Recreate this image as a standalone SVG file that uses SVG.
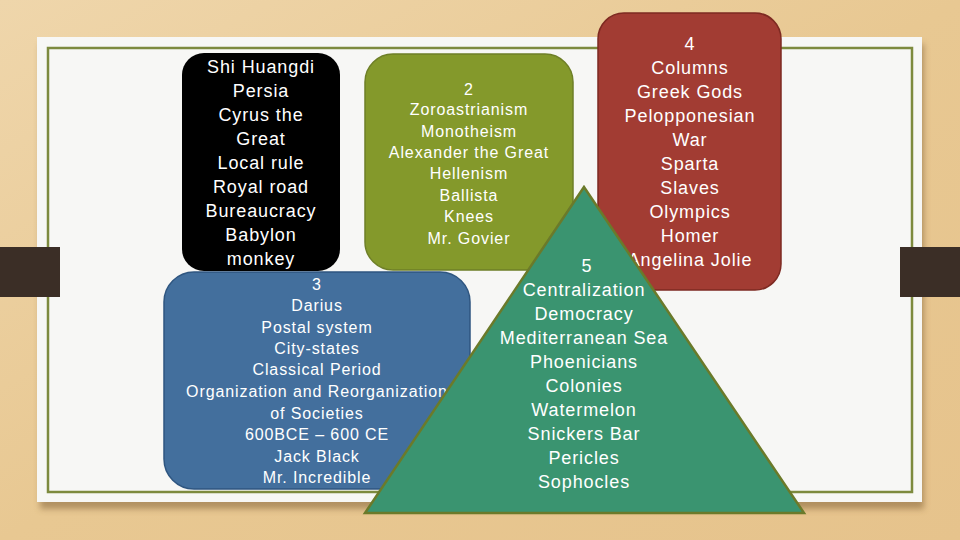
<svg xmlns="http://www.w3.org/2000/svg" width="960" height="540" viewBox="0 0 960 540">
<defs>
<linearGradient id="wood" x1="0" y1="0" x2="1" y2="1">
<stop offset="0" stop-color="#efd6ab"/>
<stop offset="0.5" stop-color="#e8c892"/>
<stop offset="1" stop-color="#e6c38c"/>
</linearGradient>
<filter id="sh" x="-5%" y="-5%" width="110%" height="115%">
<feGaussianBlur stdDeviation="3"/>
</filter>
<style>
.t{font-family:"Liberation Sans",Arial,sans-serif;fill:#ffffff;text-anchor:middle;letter-spacing:0.9px}
.l{font-size:18px}
.s{font-size:16px}
</style>
</defs>
<rect x="0" y="0" width="960" height="540" fill="url(#wood)"/>
<rect x="40" y="44" width="884" height="465" fill="#7a5a30" opacity="0.5" filter="url(#sh)"/>
<rect x="37" y="37" width="885" height="465" fill="#f7f7f5"/>
<rect x="48" y="48" width="864" height="444" fill="none" stroke="#7d8a3e" stroke-width="2.5"/>
<rect x="0" y="247" width="60" height="50" fill="#3b2e26"/>
<rect x="900" y="247" width="60" height="50" fill="#3b2e26"/>
<g id="connectors"></g>
<g id="node1">
<rect x="182" y="53" width="158" height="218" rx="22" fill="#000000"/>
<text class="t l"><tspan x="261" y="73">Shi Huangdi</tspan><tspan x="261" y="97">Persia</tspan><tspan x="261" y="121">Cyrus the</tspan><tspan x="261" y="145">Great</tspan><tspan x="261" y="169">Local rule</tspan><tspan x="261" y="193">Royal road</tspan><tspan x="261" y="217">Bureaucracy</tspan><tspan x="261" y="241">Babylon</tspan><tspan x="261" y="265">monkey</tspan></text>
</g>
<g id="node2">
<rect x="365" y="54" width="208" height="216" rx="28" fill="#84992b" stroke="#6e7f27" stroke-width="1.5"/>
<text class="t s"><tspan x="469" y="95">2</tspan><tspan x="469" y="115">Zoroastrianism</tspan><tspan x="469" y="137">Monotheism</tspan><tspan x="469" y="158">Alexander the Great</tspan><tspan x="469" y="179">Hellenism</tspan><tspan x="469" y="201">Ballista</tspan><tspan x="469" y="222">Knees</tspan><tspan x="469" y="244">Mr. Govier</tspan></text>
</g>
<g id="node3">
<rect x="164" y="272" width="306" height="217" rx="30" fill="#436f9d" stroke="#2f5680" stroke-width="1.5"/>
<text class="t s"><tspan x="317" y="290">3</tspan><tspan x="317" y="311">Darius</tspan><tspan x="317" y="333">Postal system</tspan><tspan x="317" y="354">City-states</tspan><tspan x="317" y="375">Classical Period</tspan><tspan x="317" y="397">Organization and Reorganization</tspan><tspan x="317" y="419">of Societies</tspan><tspan x="317" y="440">600BCE – 600 CE</tspan><tspan x="317" y="462">Jack Black</tspan><tspan x="317" y="483">Mr. Incredible</tspan></text>
</g>
<g id="node4">
<rect x="598" y="13" width="183" height="277" rx="26" fill="#a23c33" stroke="#7e2a22" stroke-width="1.5"/>
<text class="t l"><tspan x="690" y="50">4</tspan><tspan x="690" y="74">Columns</tspan><tspan x="690" y="98">Greek Gods</tspan><tspan x="690" y="122">Pelopponesian</tspan><tspan x="690" y="146">War</tspan><tspan x="690" y="170">Sparta</tspan><tspan x="690" y="194">Slaves</tspan><tspan x="690" y="218">Olympics</tspan><tspan x="690" y="242">Homer</tspan><tspan x="690" y="266">Angelina Jolie</tspan></text>
</g>
<g id="node5">
<polygon points="584,187 365,513 804,513" fill="#3a9470" stroke="#6b7a2a" stroke-width="2.5" stroke-linejoin="miter"/>
<text class="t l"><tspan x="587" y="272">5</tspan><tspan x="584" y="296">Centralization</tspan><tspan x="584" y="320">Democracy</tspan><tspan x="584" y="344">Mediterranean Sea</tspan><tspan x="584" y="368">Phoenicians</tspan><tspan x="584" y="392">Colonies</tspan><tspan x="584" y="416">Watermelon</tspan><tspan x="584" y="440">Snickers Bar</tspan><tspan x="584" y="464">Pericles</tspan><tspan x="584" y="488">Sophocles</tspan></text>
</g>
</svg>
